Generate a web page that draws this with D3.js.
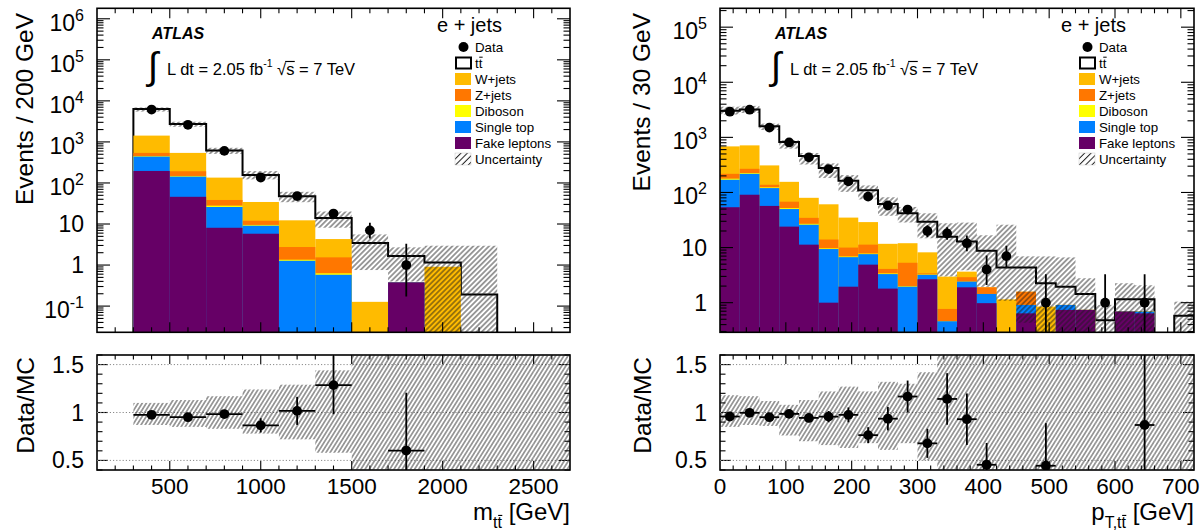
<!DOCTYPE html>
<html>
<head>
<meta charset="utf-8">
<script src="https://cdn.jsdelivr.net/npm/d3@7"></script>
<style>
  body { margin: 0; background: #fff; }
  svg text { font-family: "Liberation Sans", Arial, Helvetica, sans-serif; fill: #000; }
</style>
</head>
<body>
<svg id="chart" width="1203" height="530"></svg>
<script>
// ---------------- m(tt) distribution, 200 GeV bins ----------------
const mttEdges      = [300, 500, 700, 900, 1100, 1300, 1500, 1700, 1900, 2100, 2300, 2500, 2700];
const mttData       = [6149, 2615, 605, 136, 48, 18, 7, 1, 0, 0, 0, 0];
const mttTtbar      = [4875, 2210, 480, 122.6, 34.9, 9.7, 3.31, 1.28, 0.25, 0.193, 0, 0];
const mttWjets      = [885, 347, 96.5, 22.4, 9.55, 2.76, 0.127, 0, 0.91, 0, 0, 0];
const mttZjets      = [88, 45, 10.5, 2.5, 1.4, 0.91, 0, 0, 0, 0, 0, 0];
const mttDiboson    = [12, 5, 2, 0.4, 0.08, 0.05, 0, 0, 0, 0, 0, 0];
const mttSingleTop  = [244, 97, 17.9, 3.3, 1.27, 0.58, 0, 0, 0, 0, 0, 0];
const mttFake       = [196, 46, 8.1, 5.8, 0, 0, 0, 0.378, 0, 0, 0, 0];
// relative uncertainty band (lower / upper edge divided by the prediction)
const mttUncLo      = [0.87, 0.85, 0.83, 0.78, 0.72, 0.58, 0.22, 0.24, 0, 0, 0, 0];
const mttUncHi      = [1.10, 1.13, 1.17, 1.24, 1.29, 1.44, 1.62, 1.63, 2.55, 15.3, 0, 0];
const mttXTicks     = [500, 1000, 1500, 2000, 2500];

// ---------------- pT(tt) distribution, 30 GeV bins ----------------
const ptEdges       = [0, 30, 60, 90, 120, 150, 180, 210, 240, 270, 300, 330, 360, 390, 420, 450, 480, 510, 540, 570, 600, 630, 660, 690, 720];
const ptData        = [2927, 3180, 1507, 810, 434, 265, 159, 84, 58, 49, 20, 18, 12, 4, 7, 0, 1, 0, 0, 1, 0, 1, 0, 0];
const ptTtbar       = [2369, 2474, 1275, 666, 380, 216, 128, 81, 50.3, 30, 21.3, 12.8, 9.24, 6.9, 3.18, 2.75, 1.4, 1.04, 0.7, 0.48, 0.46, 0.46, 0, 0.58];
const ptWjets       = [468, 447, 172, 88, 45.4, 47, 25, 17.7, 7.6, 6.7, 4.8, 2.2, 0.76, 0, 1.15, 0, 0.85, 0, 0, 0, 0, 0, 0, 0];
const ptZjets       = [40, 44, 14, 16, 7.6, 4.3, 3.1, 3.5, 0.7, 3.31, 0.15, 0.31, 0.49, 0.46, 0, 0.67, 0, 0, 0, 0, 0, 0, 0, 0];
const ptDiboson     = [8, 7, 4, 2, 1, 0.3, 0.2, 0.2, 0.1, 0.04, 0.05, 0, 0, 0, 0, 0, 0, 0, 0, 0, 0, 0, 0, 0];
const ptSingleTop   = [116, 127, 63, 26, 14.7, 8.4, 4.75, 2.7, 1.5, 1.95, 0.54, 0.46, 0.51, 0.46, 0, 0.27, 0, 0.17, 0, 0, 0, 0.05, 0, 0];
const ptFake        = [54, 91, 57, 24, 11.3, 1.0, 1.95, 4.9, 1.8, 0, 2.66, 0, 1.9, 0.98, 0, 0.64, 0, 0.74, 0.74, 0, 0.69, 0.64, 0, 0];
const ptUncLo       = [0.85, 0.87, 0.86, 0.76, 0.70, 0.66, 0.63, 0.68, 0.61, 0.68, 0.50, 0.19, 0.30, 0.22, 0.25, 0.10, 0, 0, 0, 0, 0, 0, 0, 0];
const ptUncHi       = [1.18, 1.17, 1.12, 1.08, 1.13, 1.22, 1.27, 1.22, 1.32, 1.30, 1.42, 1.75, 2.2, 1.9, 6.0, 1.6, 3.07, 3.4, 1.93, 1.9, 1.96, 1.8, 0, 1.8];
const ptXTicks      = [0, 100, 200, 300, 400, 500, 600, 700];

// ---------------- shared ----------------
const legendNames   = ["Data", "tt", "W+jets", "Z+jets", "Diboson", "Single top", "Fake leptons", "Uncertainty"];
const ratioTicks    = [0.5, 1, 1.5];
const COL = { W: "#ffbb00", Z: "#ff7700", Dib: "#ffff00", Single: "#0080ff", Fake: "#660066" };

const svg = d3.select("#chart");
const defs = svg.append("defs");

function hatchPattern(id, spacing, angle, width) {
  const p = defs.append("pattern").attr("id", id)
    .attr("patternUnits", "userSpaceOnUse")
    .attr("width", spacing).attr("height", spacing)
    .attr("patternTransform", `rotate(${angle})`);
  p.append("line").attr("x1", spacing / 2).attr("y1", -1).attr("x2", spacing / 2).attr("y2", spacing + 1)
    .attr("stroke", "#1a1a1a").attr("stroke-width", width);
}
hatchPattern("hatchTop", 3.7, 45, 0.85);
hatchPattern("hatchRatio", 3.5, 32, 0.8);
hatchPattern("hatchLegend", 4.5, 45, 1.0);

const TOP = { y0: 8.3, y1: 332.3 };
const RAT = { y0: 355, y1: 470 };

// bar over one character of a text element (used for the anti-top and the square root)
function overbar(parent, textSel, idx, fs, x0shift) {
  const ext = textSel.node().getExtentOfChar(idx);
  const y = ext.y + 0.09 * fs;
  parent.append("line")
    .attr("x1", ext.x + (x0shift === undefined ? 0.04 * fs : x0shift)).attr("x2", ext.x + ext.width + 0.02 * fs)
    .attr("y1", y).attr("y2", y)
    .attr("stroke", "#000").attr("stroke-width", Math.max(1, fs * 0.07));
}

// Poisson-like interval (Wilson–Hilferty) for the event counts
function poissonLo(n) { return n * Math.pow(1 - 1 / (9 * n) - 1 / (3 * Math.sqrt(n)), 3); }
function poissonHi(n) { const m = n + 1; return m * Math.pow(1 - 1 / (9 * m) + 1 / (3 * Math.sqrt(m)), 3); }

function drawPanel(cfg) {
  const { edges, data, comps, uncLo, uncHi } = cfg;
  const nb = data.length;
  const x = d3.scaleLinear().domain(cfg.xDomain).range(cfg.xRange);
  const y = d3.scaleLog().domain(cfg.yDomain).range([TOP.y1, TOP.y0]);
  const yr = d3.scaleLinear().domain([0.4, 1.6]).range([RAT.y1, RAT.y0]);
  const [fx0, fx1] = cfg.xRange;
  const ymin = cfg.yDomain[0];
  const yc = v => y(Math.max(v, ymin));

  // stacking order from the bottom up
  const layers = [
    { v: comps.fake, c: COL.Fake },
    { v: comps.single, c: COL.Single },
    { v: comps.dib, c: COL.Dib },
    { v: comps.z, c: COL.Z },
    { v: comps.w, c: COL.W },
  ];
  const cum = [];
  let run = new Array(nb).fill(0);
  layers.forEach(l => { run = run.map((s, i) => s + l.v[i]); cum.push(run.slice()); });
  const total = run.map((s, i) => s + comps.tt[i]);

  const clipId = "clip-" + cfg.id;
  defs.append("clipPath").attr("id", clipId).append("rect")
    .attr("x", fx0).attr("y", TOP.y0).attr("width", fx1 - fx0).attr("height", TOP.y1 - TOP.y0);
  const g = svg.append("g").attr("clip-path", `url(#${clipId})`);

  // ttbar: total histogram, white with black outline
  let pts = [[x(edges[0]), TOP.y1 + 5]];
  for (let i = 0; i < nb; i++) {
    const yy = total[i] > 0 ? yc(total[i]) : TOP.y1 + 5;
    pts.push([x(edges[i]), yy], [x(edges[i + 1]), yy]);
  }
  pts.push([x(edges[nb]), TOP.y1 + 5]);
  g.append("path").attr("d", d3.line()(pts)).attr("fill", "#fff")
    .attr("stroke", "#000").attr("stroke-width", 2).attr("stroke-linejoin", "miter");

  // background stack, each cumulative layer drawn over the next one up
  for (let li = layers.length - 1; li >= 0; li--) {
    g.selectAll(null).data(cum[li].map((v, i) => ({ v, i })).filter(d => d.v > 0))
      .enter().append("rect")
      .attr("x", d => x(edges[d.i])).attr("width", d => x(edges[d.i + 1]) - x(edges[d.i]))
      .attr("y", d => yc(d.v)).attr("height", d => TOP.y1 + 5 - yc(d.v))
      .attr("fill", layers[li].c);
  }

  // uncertainty band
  g.selectAll(null).data(total.map((t, i) => ({ t, i })).filter(d => d.t > 0))
    .enter().append("rect")
    .attr("x", d => x(edges[d.i])).attr("width", d => x(edges[d.i + 1]) - x(edges[d.i]))
    .attr("y", d => yc(d.t * uncHi[d.i]))
    .attr("height", d => (uncLo[d.i] > 0 ? yc(d.t * uncLo[d.i]) : TOP.y1 + 5) - yc(d.t * uncHi[d.i]))
    .attr("fill", "url(#hatchTop)");

  // data
  const dpts = data.map((n, i) => ({ n, i, xc: x((edges[i] + edges[i + 1]) / 2) })).filter(d => d.n > 0);
  g.selectAll(null).data(dpts).enter().append("line")
    .attr("x1", d => d.xc).attr("x2", d => d.xc)
    .attr("y1", d => yc(poissonHi(d.n))).attr("y2", d => yc(poissonLo(d.n)))
    .attr("stroke", "#000").attr("stroke-width", 1.8);
  g.selectAll(null).data(dpts).enter().append("circle")
    .attr("cx", d => d.xc).attr("cy", d => yc(d.n)).attr("r", 4.9).attr("fill", "#000");

  // ---- top frame, ticks, labels ----
  const ax = svg.append("g");
  ax.append("rect").attr("x", fx0).attr("y", TOP.y0).attr("width", fx1 - fx0).attr("height", TOP.y1 - TOP.y0)
    .attr("fill", "none").attr("stroke", "#000").attr("stroke-width", 1.6);
  const tick = (x1, y1, x2, y2) => ax.append("line").attr("x1", x1).attr("y1", y1).attr("x2", x2).attr("y2", y2)
    .attr("stroke", "#000").attr("stroke-width", 1.1);

  // log y ticks on both sides
  const e0 = Math.floor(Math.log10(cfg.yDomain[0])), e1 = Math.ceil(Math.log10(cfg.yDomain[1]));
  for (let e = e0; e <= e1; e++) {
    for (let k = 1; k <= 9; k++) {
      const v = k * Math.pow(10, e);
      if (v < cfg.yDomain[0] || v > cfg.yDomain[1]) continue;
      const len = k === 1 ? 13 : 6.5, yy = y(v);
      tick(fx0, yy, fx0 + len, yy);
      tick(fx1, yy, fx1 - len, yy);
    }
  }
  cfg.yTicks.forEach(v => {
    const e = Math.round(Math.log10(v)), yy = y(v);
    if (e === 0 || e === 1) {
      ax.append("text").attr("x", fx0 - 13).attr("y", yy + 8).attr("text-anchor", "end")
        .attr("font-size", 23).text(e === 0 ? "1" : "10");
    } else {
      const t = ax.append("text").attr("x", fx0 - 13).attr("y", yy + 12).attr("text-anchor", "end").attr("font-size", 23);
      t.append("tspan").text("10");
      t.append("tspan").attr("font-size", 16).attr("dy", -10).text(String(e));
    }
  });
  // x ticks (no labels on the upper pad)
  const xTicksAll = (major, minorStep, yA, yB, lenMaj, lenMin) => {
    for (let v = cfg.xDomain[0]; v <= cfg.xDomain[1] + 1e-9; v += minorStep) {
      if (v <= cfg.xDomain[0] + 1e-9 || v >= cfg.xDomain[1] - 1e-9) continue;
      const isMaj = major.includes(v);
      const len = isMaj ? lenMaj : lenMin, xx = x(v);
      tick(xx, yB, xx, yB - len);
      tick(xx, yA, xx, yA + len);
    }
  };
  xTicksAll(cfg.xTicks, cfg.xMinor, TOP.y0, TOP.y1, 10, 5);

  // y axis title
  svg.append("text").attr("transform", `translate(${cfg.yTitleX},13) rotate(-90)`)
    .attr("text-anchor", "end").attr("font-size", 24.5).text(cfg.yTitle);

  // ATLAS label and luminosity
  svg.append("text").attr("x", fx0 + 55).attr("y", 39).attr("font-size", 16)
    .attr("font-weight", "bold").attr("font-style", "italic").text("ATLAS");
  svg.append("text").attr("x", fx0 + 56).attr("y", 79).attr("text-anchor", "middle")
    .attr("font-size", 38).style("font-family", '"DejaVu Sans", sans-serif').style("font-weight", 200).text("∫");
  const lum = svg.append("text").attr("x", fx0 + 70).attr("y", 75).attr("font-size", 16.5);
  lum.append("tspan").text("L dt = 2.05 fb");
  lum.append("tspan").attr("font-size", 10.5).attr("dy", -8).text("-1");
  lum.append("tspan").attr("dy", 8).text(" √s = 7 TeV");
  overbar(svg, lum, 18, 16.5, -1);

  // channel label + legend
  svg.append("text").attr("x", fx1 - 68).attr("y", 32).attr("text-anchor", "end").attr("font-size", 20).text("e + jets");
  const lg = svg.append("g");
  const lx = fx1 - 115, rowY = i => 47 + i * 16;
  legendNames.forEach((name, i) => {
    const cy = rowY(i);
    if (i === 0) {
      lg.append("circle").attr("cx", lx + 8.5).attr("cy", cy).attr("r", 5).attr("fill", "#000");
    } else if (i === 1) {
      lg.append("rect").attr("x", lx + 1).attr("y", cy - 5.5).attr("width", 15).attr("height", 11)
        .attr("fill", "#fff").attr("stroke", "#000").attr("stroke-width", 2);
    } else if (i === 7) {
      lg.append("rect").attr("x", lx).attr("y", cy - 6).attr("width", 16).attr("height", 12)
        .attr("fill", "url(#hatchLegend)").attr("stroke", "#ccc").attr("stroke-width", 0.5);
    } else {
      const c = [null, null, COL.W, COL.Z, COL.Dib, COL.Single, COL.Fake][i];
      lg.append("rect").attr("x", lx).attr("y", cy - 6).attr("width", 16).attr("height", 12).attr("fill", c);
    }
    const t = lg.append("text").attr("x", lx + 20).attr("y", cy + 5).attr("font-size", 13.3).text(name);
    if (i === 1) overbar(lg, t, 1, 13.3);
  });

  // ---------------- ratio pad ----------------
  const clipR = "clipr-" + cfg.id;
  defs.append("clipPath").attr("id", clipR).append("rect")
    .attr("x", fx0).attr("y", RAT.y0).attr("width", fx1 - fx0).attr("height", RAT.y1 - RAT.y0);
  const gr = svg.append("g").attr("clip-path", `url(#${clipR})`);
  ratioTicks.forEach(v => gr.append("line").attr("x1", fx0).attr("x2", fx1).attr("y1", yr(v)).attr("y2", yr(v))
    .attr("stroke", "#8a8a8a").attr("stroke-width", 1).attr("stroke-dasharray", "1.2,2"));
  const bandTop = d => d.t > 0 ? yr(Math.min(uncHi[d.i], 1.7)) : RAT.y0 - 5;
  const bandBot = d => d.t > 0 ? yr(Math.max(uncLo[d.i], 0.3)) : RAT.y1 + 5;
  gr.selectAll(null).data(total.map((t, i) => ({ t, i }))).enter().append("rect")
    .attr("x", d => x(edges[d.i])).attr("width", d => x(edges[d.i + 1]) - x(edges[d.i]))
    .attr("y", bandTop).attr("height", d => bandBot(d) - bandTop(d))
    .attr("fill", "url(#hatchRatio)");
  const rpts = data.map((n, i) => ({ n, i, t: total[i] }))
    .filter(d => d.n > 0 && d.t > 0)
    .map(d => ({ ...d, r: d.n / d.t, err: Math.sqrt(d.n) / d.t }))
    .filter(d => d.r >= 0.4 && d.r <= 1.6);
  rpts.forEach(d => {
    const xc = x((edges[d.i] + edges[d.i + 1]) / 2);
    gr.append("line").attr("x1", x(edges[d.i])).attr("x2", x(edges[d.i + 1])).attr("y1", yr(d.r)).attr("y2", yr(d.r))
      .attr("stroke", "#000").attr("stroke-width", 1.8);
    gr.append("line").attr("x1", xc).attr("x2", xc)
      .attr("y1", yr(Math.min(d.r + d.err, 1.7))).attr("y2", yr(Math.max(d.r - d.err, 0.3)))
      .attr("stroke", "#000").attr("stroke-width", 1.8);
    gr.append("circle").attr("cx", xc).attr("cy", yr(d.r)).attr("r", 4.9).attr("fill", "#000");
  });

  ax.append("rect").attr("x", fx0).attr("y", RAT.y0).attr("width", fx1 - fx0).attr("height", RAT.y1 - RAT.y0)
    .attr("fill", "none").attr("stroke", "#000").attr("stroke-width", 1.6);
  for (let k = 4; k <= 16; k++) {
    const v = k / 10, yy = yr(v), isMaj = (k % 5 === 0);
    const len = isMaj ? 11 : 5.5;
    tick(fx0, yy, fx0 + len, yy);
    tick(fx1, yy, fx1 - len, yy);
  }
  ratioTicks.forEach(v => ax.append("text").attr("x", fx0 - 13).attr("y", yr(v) + 8)
    .attr("text-anchor", "end").attr("font-size", 23).text(String(v)));
  xTicksAll(cfg.xTicks, cfg.xMinor, RAT.y0, RAT.y1, 9, 4.5);
  cfg.xTicks.forEach(v => ax.append("text").attr("x", x(v)).attr("y", 493.5)
    .attr("text-anchor", "middle").attr("font-size", 22.5).text(String(v)));

  svg.append("text").attr("transform", `translate(${cfg.yTitleX + 1},357) rotate(-90)`)
    .attr("text-anchor", "end").attr("font-size", 24.5).text("Data/MC");

  // x axis title with subscript
  const xt = svg.append("text").attr("x", fx1).attr("y", 520).attr("text-anchor", "end").attr("font-size", 24);
  xt.append("tspan").text(cfg.xTitleMain);
  xt.append("tspan").attr("font-size", 16).attr("dy", 8).text(cfg.xTitleSub);
  xt.append("tspan").attr("dy", -8).text(" [GeV]");
  overbar(svg, xt, cfg.xTitleMain.length + cfg.xTitleSub.length - 1, 16);
}

drawPanel({
  id: "mtt", edges: mttEdges, data: mttData,
  comps: { tt: mttTtbar, w: mttWjets, z: mttZjets, dib: mttDiboson, single: mttSingleTop, fake: mttFake },
  uncLo: mttUncLo, uncHi: mttUncHi,
  xDomain: [100, 2700], xRange: [97, 570], yDomain: [0.023, 1.8e6],
  yTicks: [0.1, 1, 10, 100, 1e3, 1e4, 1e5, 1e6],
  xTicks: mttXTicks, xMinor: 100,
  yTitle: "Events / 200 GeV", yTitleX: 33,
  xTitleMain: "m", xTitleSub: "tt"
});

drawPanel({
  id: "pt", edges: ptEdges, data: ptData,
  comps: { tt: ptTtbar, w: ptWjets, z: ptZjets, dib: ptDiboson, single: ptSingleTop, fake: ptFake },
  uncLo: ptUncLo, uncHi: ptUncHi,
  xDomain: [0, 720], xRange: [720, 1194], yDomain: [0.29, 2.2e5],
  yTicks: [1, 10, 100, 1e3, 1e4, 1e5],
  xTicks: ptXTicks, xMinor: 20,
  yTitle: "Events / 30 GeV", yTitleX: 650,
  xTitleMain: "p", xTitleSub: "T,tt"
});
</script>
</body>
</html>
